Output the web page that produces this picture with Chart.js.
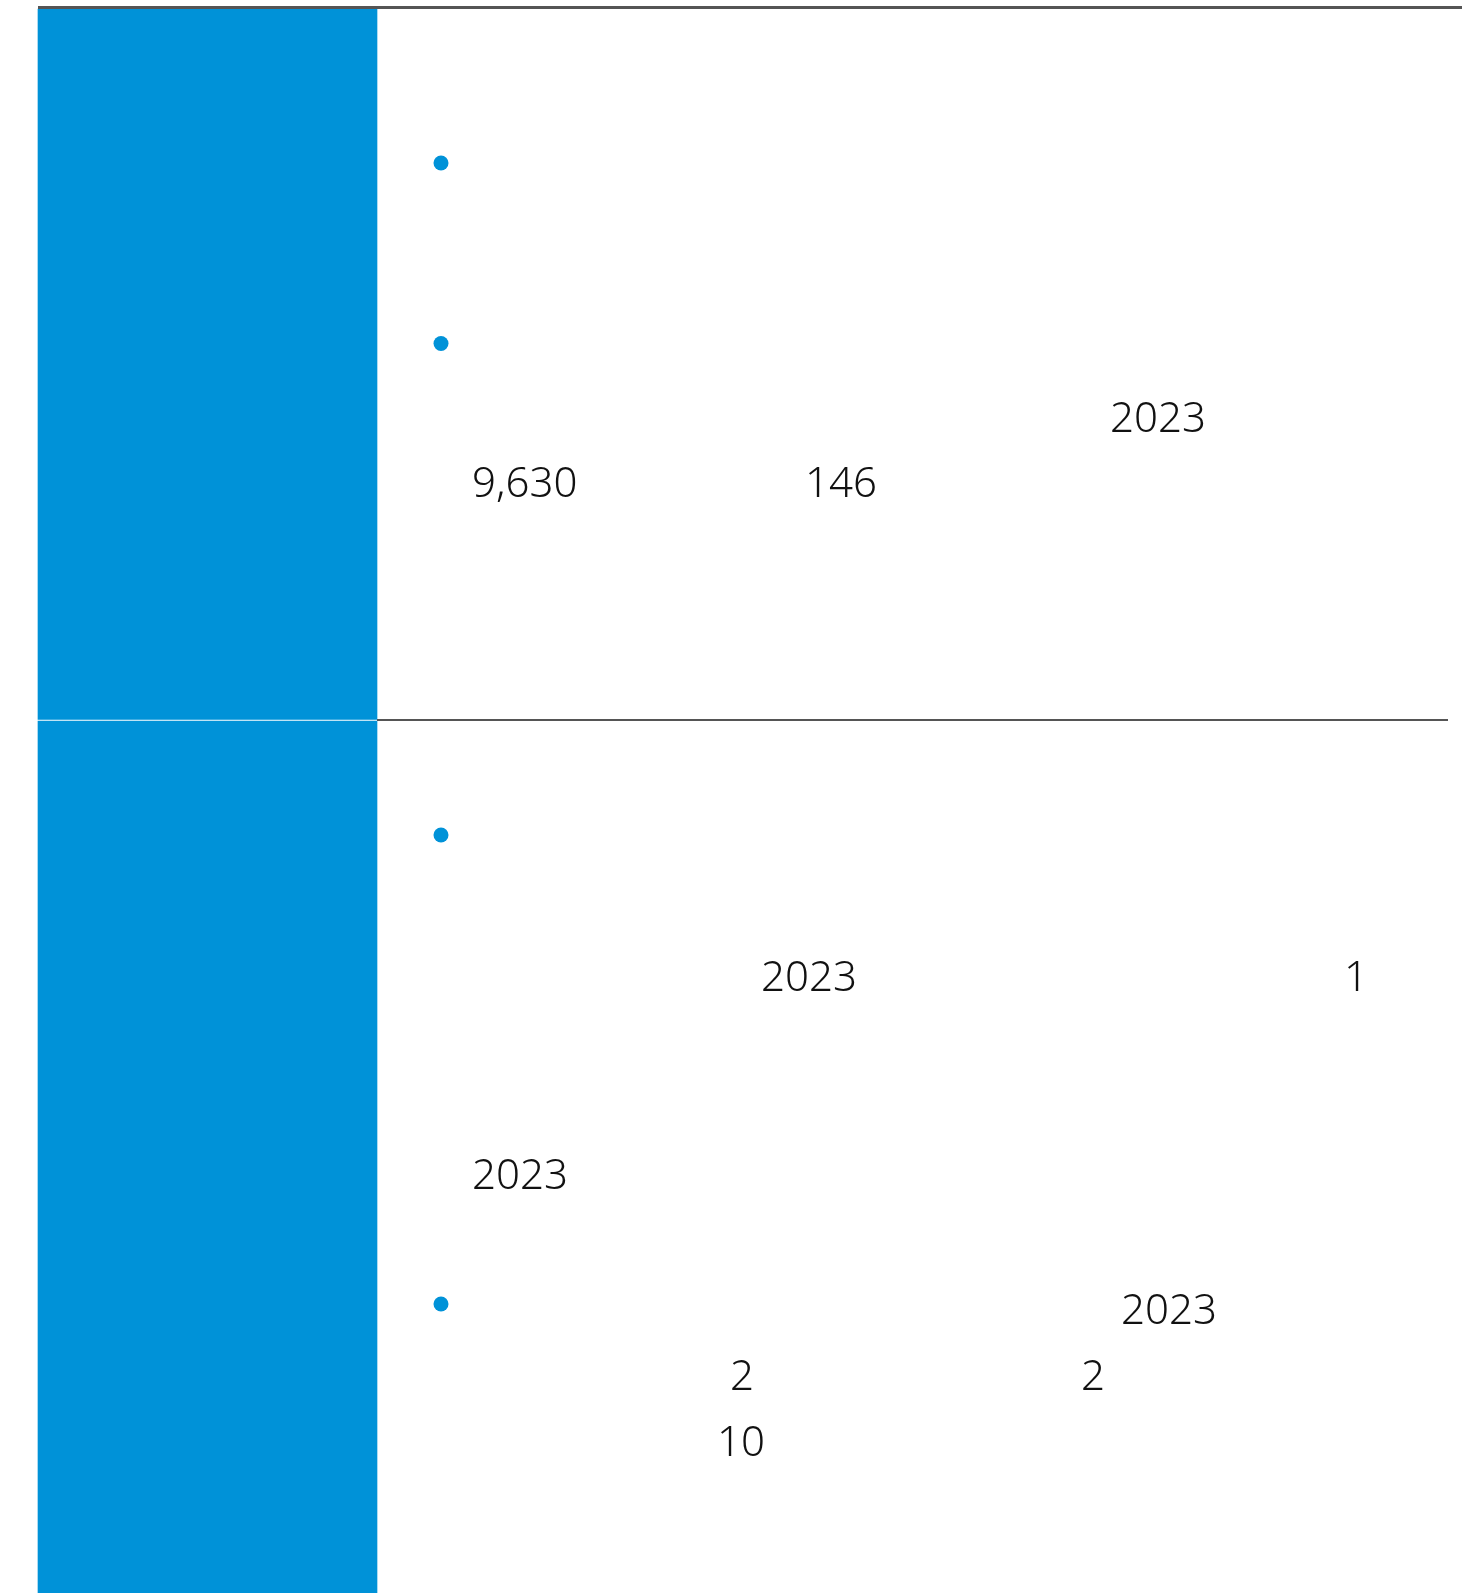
<!DOCTYPE html>
<html>
<head>
<meta charset="utf-8">
<script src="https://cdn.jsdelivr.net/npm/chart.js@4"></script>
<style>
  html, body { margin: 0; padding: 0; background: #fff; }
  canvas { display: block; }
</style>
</head>
<body>
<canvas id="chart" width="1472" height="1593"></canvas>
<script>
// page units = reference pixels, y grows downward

// the two table rows (left blue cell spans)
const rowTops = [9, 721];
const rowBottoms = [719.5, 1593];

// rules: top border and divider between rows
const ruleY = [7.5, 720];
const ruleStart = [38, 377];
const ruleEnd = [1462, 1448];

// bullet markers
const bulletX = [441, 441, 441, 441];
const bulletY = [163, 343.5, 835, 1304];

// the numbers that survived in the body text
const numberLabels = ['2023', '9,630', '146', '2023', '1', '2023', '2023', '2', '2', '10'];
const numberX = [1110, 472, 805, 761, 1344, 472, 1121, 730, 1081, 717];
const numberY = [432, 497, 497, 991, 991, 1189, 1324, 1390, 1390, 1456];

const BLUE = '#0092d8';

const textPlugin = {
  id: 'bodyNumbers',
  afterDatasetsDraw(chart) {
    const { ctx, scales } = chart;
    ctx.save();
    ctx.fillStyle = '#111';
    ctx.font = '300 42px "Noto Sans", "Open Sans", sans-serif';
    ctx.textAlign = 'left';
    ctx.textBaseline = 'alphabetic';
    numberLabels.forEach((t, i) => {
      ctx.fillText(t, scales.x.getPixelForValue(numberX[i]), scales.y.getPixelForValue(numberY[i]));
    });
    ctx.restore();
  }
};

const cellData = rowTops.map((top, i) => ({ x: 207.5, y: [top, rowBottoms[i]] }));

const ruleSets = ruleY.map((y, i) => ({
  type: 'line',
  data: [{ x: ruleStart[i], y: y }, { x: ruleEnd[i], y: y }],
  borderColor: '#555',
  borderWidth: i === 0 ? 3 : 2,
  pointRadius: 0,
  showLine: true,
  order: 1
}));

new Chart(document.getElementById('chart'), {
  type: 'scatter',
  data: {
    datasets: [
      {
        type: 'bar',
        data: cellData,
        backgroundColor: BLUE,
        barThickness: 339,
        borderWidth: 0,
        grouped: false,
        order: 2
      },
      ...ruleSets,
      {
        type: 'scatter',
        data: bulletX.map((x, i) => ({ x: x, y: bulletY[i] })),
        backgroundColor: BLUE,
        borderWidth: 0,
        pointRadius: 7.5,
        order: 0
      }
    ]
  },
  options: {
    responsive: false,
    devicePixelRatio: 1,
    animation: false,
    events: [],
    layout: { padding: 0, autoPadding: false },
    scales: {
      x: { type: 'linear', min: 0, max: 1472, offset: false, display: false },
      y: { type: 'linear', min: 0, max: 1593, reverse: true, display: false }
    },
    plugins: {
      legend: { display: false },
      tooltip: { enabled: false }
    }
  },
  plugins: [textPlugin]
});
</script>
</body>
</html>
